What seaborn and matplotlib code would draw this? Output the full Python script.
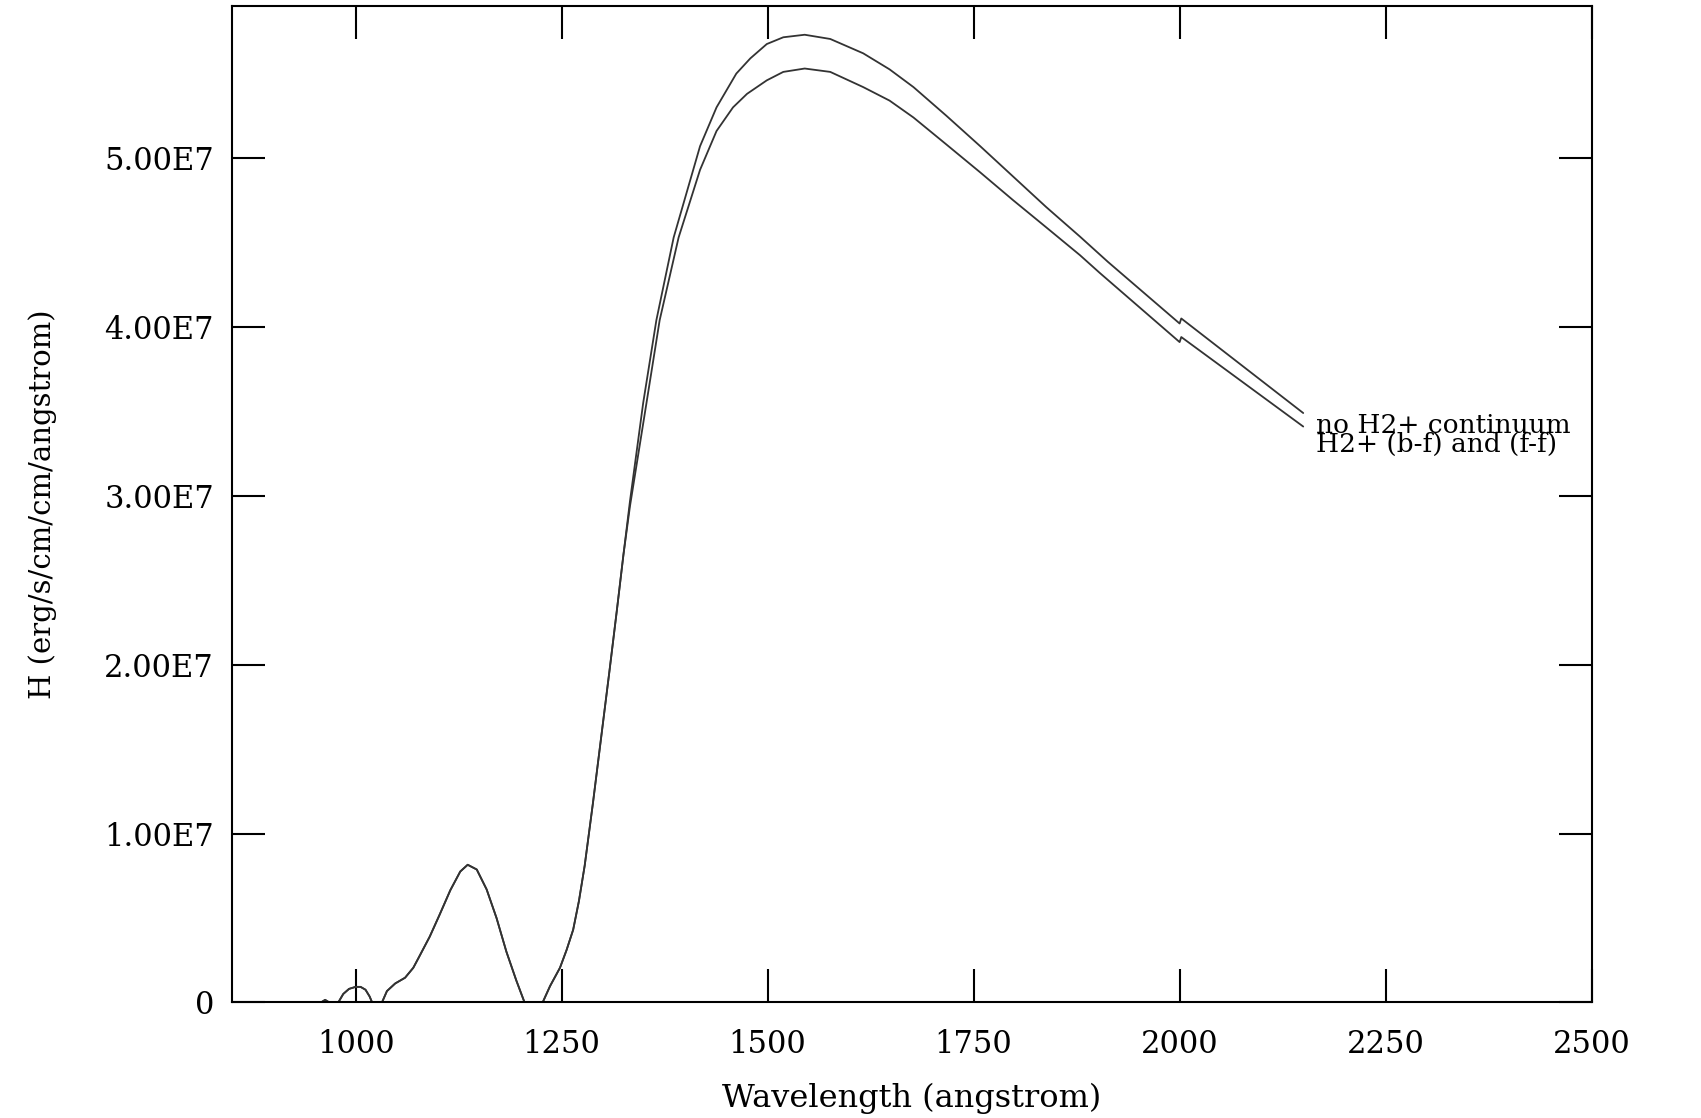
import numpy as np
import pandas as pd
import seaborn as sns
import matplotlib.pyplot as plt

# shared low-wavelength part (both models coincide here), flux in units of 1e7
low_wave = [880, 958, 963, 968, 979, 985, 992, 1000, 1006, 1012, 1017, 1020,
            1032, 1038, 1048, 1060, 1070, 1076, 1090, 1102, 1115, 1127, 1136,
            1147, 1159, 1171, 1183, 1195, 1205, 1227, 1236, 1248, 1256, 1264,
            1271, 1278, 1288, 1298, 1308, 1317, 1325]
low_flux = [0, 0, 0.015, 0, 0, 0.05, 0.08, 0.092, 0.092, 0.075, 0.035, 0,
            0, 0.067, 0.112, 0.146, 0.205, 0.26, 0.39, 0.52, 0.665, 0.775, 0.815,
            0.787, 0.669, 0.5, 0.3, 0.13, 0, 0, 0.097, 0.205, 0.31, 0.43,
            0.6, 0.81, 1.18, 1.57, 1.96, 2.32, 2.65]

# "no H2+ continuum"
upper_wave = [1333, 1349, 1365, 1386, 1418, 1438, 1462, 1479, 1499, 1519,
              1545, 1576, 1616, 1648, 1677, 1717, 1758, 1798, 1838, 1879,
              1913, 2000, 2002, 2150]
upper_flux = [2.97, 3.55, 4.04, 4.53, 5.07, 5.30, 5.50, 5.59, 5.675, 5.715,
              5.73, 5.705, 5.62, 5.525, 5.42, 5.25, 5.07, 4.89, 4.71, 4.535,
              4.385, 4.02, 4.05, 3.49]

# "H2+ (b-f) and (f-f)"
lower_wave = [1333, 1353, 1369, 1392, 1418, 1438, 1458, 1475, 1499, 1519,
              1545, 1576, 1616, 1648, 1677, 1717, 1758, 1798, 1838, 1879,
              1903, 2000, 2002, 2150]
lower_flux = [2.94, 3.55, 4.04, 4.53, 4.93, 5.16, 5.30, 5.38, 5.46, 5.51,
              5.53, 5.51, 5.42, 5.34, 5.24, 5.08, 4.915, 4.75, 4.59, 4.425,
              4.32, 3.91, 3.94, 3.41]

series_labels = ["no H2+ continuum", "H2+ (b-f) and (f-f)"]
y_ticks = [0, 1e7, 2e7, 3e7, 4e7, 5e7]
y_ticklabels = ["0", "1.00E7", "2.00E7", "3.00E7", "4.00E7", "5.00E7"]
x_ticks = [1000, 1250, 1500, 1750, 2000, 2250, 2500]

sns.set_theme(style="white")
plt.rcParams['font.family'] = ['DejaVu Serif']

df_up = pd.DataFrame({"wave": low_wave + upper_wave,
                      "flux": np.array(low_flux + upper_flux) * 1e7})
df_lo = pd.DataFrame({"wave": low_wave + lower_wave,
                      "flux": np.array(low_flux + lower_flux) * 1e7})

fig = plt.figure(figsize=(17.01, 11.18), dpi=100)
ax = fig.add_axes([0.1364, 0.1034, 0.7993, 0.8912])

line_color = "#333333"
sns.lineplot(data=df_up, x="wave", y="flux", ax=ax, color=line_color,
             linewidth=1.3, estimator=None)
sns.lineplot(data=df_lo, x="wave", y="flux", ax=ax, color=line_color,
             linewidth=1.3, estimator=None)

# curve labels at the right end of each line (they overlap in the original too)
ax.text(2166, 3.37e7, series_labels[0], fontsize=19, va="baseline", ha="left",
        color="black")
ax.text(2166, 3.26e7, series_labels[1], fontsize=19, va="baseline", ha="left",
        color="black")

ax.set_xlim(850, 2500)
ax.set_ylim(0, 5.9e7)
ax.set_xticks(x_ticks)
ax.set_xticklabels([str(t) for t in x_ticks])
ax.set_yticks(y_ticks)
ax.set_yticklabels(y_ticklabels)

for sp in ax.spines.values():
    sp.set_visible(True)
    sp.set_color("black")
    sp.set_linewidth(1.5)

ax.tick_params(axis="both", which="major", direction="in", length=24,
               width=1.5, color="black", top=True, right=True, bottom=True,
               left=True, labelsize=22, labelcolor="black")
ax.tick_params(axis="x", pad=19)
ax.tick_params(axis="y", pad=13)

ax.set_xlabel("Wavelength (angstrom)", fontsize=23, color="black", va="center")
ax.set_ylabel("H (erg/s/cm/cm/angstrom)", fontsize=21, color="black", va="center")
ax.xaxis.set_label_coords(0.5, -0.096)
ax.yaxis.set_label_coords(-0.139, 0.5)

fig.savefig("out.png", dpi=100, facecolor="white")
